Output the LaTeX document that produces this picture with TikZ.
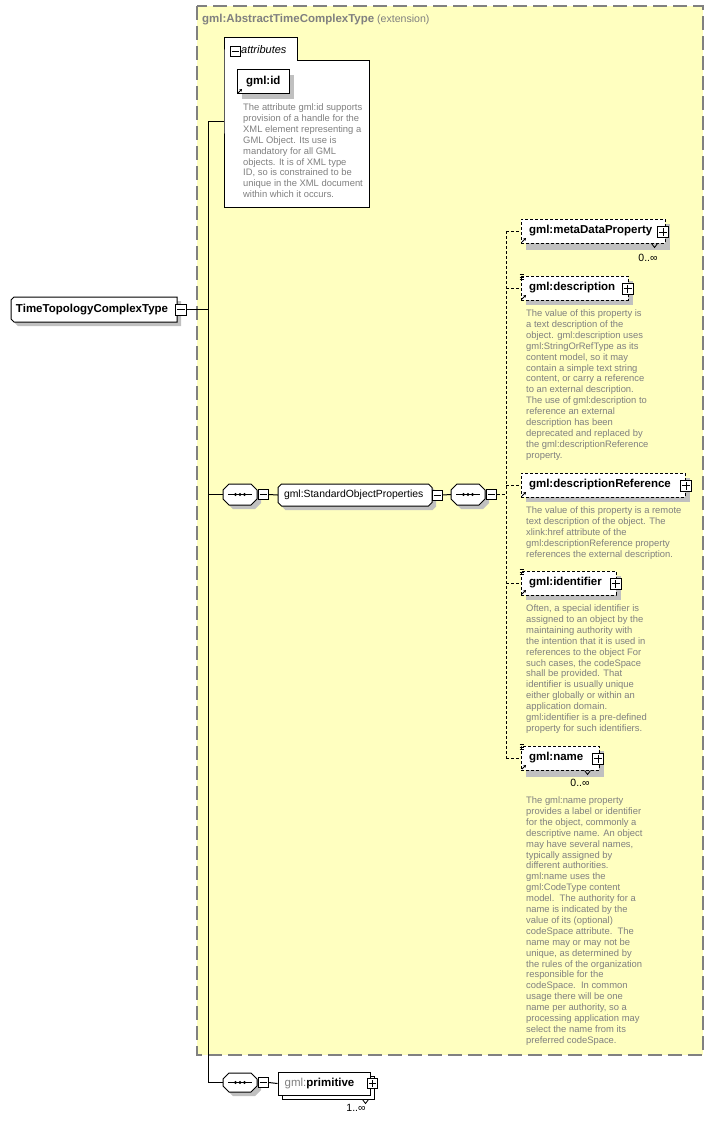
\documentclass[tikz,border=0pt]{standalone}
\usepackage{fontspec}
\setmainfont{Liberation Sans}
\usetikzlibrary{shadows,arrows.meta}
\definecolor{ybg}{RGB}{255,255,192}
\definecolor{framegray}{RGB}{128,128,128}
\definecolor{titlegray}{RGB}{128,128,128}
\definecolor{docgray}{RGB}{128,128,128}
\definecolor{shadowc}{RGB}{192,192,192}
\newcommand\lblfont{\fontsize{11.5}{13}\selectfont\bfseries}
\newcommand\regfont{\fontsize{10.6}{13}\selectfont}
\newcommand\docfont{\fontsize{9.4}{10.9}\selectfont}
\newcommand\cardfont{\fontsize{10.5}{12}\selectfont}
\newcommand\boxtxt[2]{\makebox[#1][l]{#2}}
\newcommand\minusln[1]{\draw[line width=1pt] ([xshift=2pt]#1.west) -- ([xshift=-2pt]#1.east);}
\newcommand\plusln[1]{\draw[line width=1pt] ([xshift=2pt]#1.west) -- ([xshift=-2pt]#1.east);
  \draw[line width=1pt] ([yshift=2pt]#1.south) -- ([yshift=-2pt]#1.north);}
\newcommand\seqdots[1]{\draw[line width=1pt] ([xshift=-12pt]#1.center) -- ([xshift=12pt]#1.center);
  \foreach \dx in {-4.5,0,4.5} \fill ([xshift=\dx pt]#1.center) circle (1.7pt);}
\newcommand\refarrow[1]{\draw[line width=0.8pt,-{Stealth[length=2.6pt,width=3pt]}] ([xshift=1.5pt,yshift=1.5pt]#1.south west) -- ++(4,-4);}
\newcommand\docicon[1]{\foreach \k in {1,-1.5,-4} \draw[line width=0.7pt] ([xshift=-1pt,yshift=\k pt]#1.north west) -- ++(4.5,0);}
% octagon: x1,y1,x2,y2,chamfer,shadow offset
\newcommand\octshape[6]{%
  \fill[shadowc] ({#1+#6+#5},{#2+#6}) -- ({#3+#6-#5},{#2+#6}) -- ({#3+#6},{#2+#6+#5}) -- ({#3+#6},{#4+#6-#5}) -- ({#3+#6-#5},{#4+#6}) -- ({#1+#6+#5},{#4+#6}) -- ({#1+#6},{#4+#6-#5}) -- ({#1+#6},{#2+#6+#5}) -- cycle;
  \draw[line width=1pt, fill=white] ({#1+#5},#2) -- ({#3-#5},#2) -- (#3,{#2+#5}) -- (#3,{#4-#5}) -- ({#3-#5},#4) -- ({#1+#5},#4) -- (#1,{#4-#5}) -- (#1,{#2+#5}) -- cycle;}
\begin{document}
\begin{tikzpicture}[x=1pt,y=-1pt,
  every node/.style={inner sep=0pt},
  conn/.style={line width=1pt, draw=black},
  optconn/.style={conn, dash pattern=on 3pt off 2pt},
  elem/.style={rectangle, draw=black, fill=white, line width=1pt, font=\lblfont,
    inner xsep=8pt, inner ysep=0pt, minimum height=24pt,
    drop shadow={shadow xshift=5pt, shadow yshift=-5pt, fill=shadowc, opacity=1}},
  opt/.style={dash pattern=on 3pt off 2pt},
  pm/.style={rectangle, draw=black, fill=white, line width=1pt, minimum size=11pt},
  doc/.style={anchor=north west, align=left, font=\docfont, text=docgray},
  card/.style={font=\cardfont},
  frame/.style={rectangle, draw=none}
]
\useasboundingbox (0,0) rectangle (713,1121);
\fill[white] (0,0) rectangle (713,1121);

% extension box
\fill[ybg] (197,6) rectangle (703,1055);
\draw[framegray, line width=1.2pt, dash pattern=on 14pt off 6pt] (197,6) rectangle (703,1055);
\node[anchor=west, text=titlegray] (title) at (202,20) {{\lblfont gml:AbstractTimeComplexType} {\regfont (extension)}};

% attributes
\draw[line width=1pt, fill=white] (224,61) -- (224,38) -- (297,38) -- (297,61) -- (369,61) -- (369,207) -- (224,207) -- cycle;
\node[frame, minimum width=145pt, minimum height=146pt] (attr) at (296.5,134) {};
\node[pm, minimum size=10pt] (attrm) at (235,51.5) {};
\minusln{attrm}
\node[anchor=west, font=\fontsize{11}{13}\selectfont\itshape] (attrt) at (241,50) {attributes};

\node[elem, inner xsep=9pt] (gid) at (263,82) {\boxtxt{34pt}{gml:id}};
\refarrow{gid}
\node[doc] (gidd) at (243,103.5) {The attribute gml:id supports\\provision of a handle for the\\XML element representing a\\GML Object. Its use is\\mandatory for all GML\\objects. It is of XML type\\ID, so is constrained to be\\unique in the XML document\\within which it occurs.};

% root
\fill[shadowc] (18,301) -- (181,301) -- (181,326) -- (18,326) -- (15,323) -- (15,304) -- cycle;
\draw[line width=1pt, fill=white] (14,297) -- (177,297) -- (177,322) -- (14,322) -- (11,319) -- (11,300) -- cycle;
\node[frame, minimum width=166pt, minimum height=25pt] (root) at (94,309.5) {};
\node[anchor=west, font=\lblfont] (roott) at ([xshift=5pt]root.west) {TimeTopologyComplexType};
\node[pm] (rootm) at ([xshift=4pt]root.east) {};
\minusln{rootm}

% trunk
\coordinate (ttop) at (208,122);
\coordinate (tbot) at (208,1082.5);
\draw[conn] (rootm.east) -- (rootm.east -| ttop);
\draw[conn] (ttop) -- (tbot);
\draw[conn] (ttop) -- (ttop -| attr.west);

% sequence 1 and group
\octshape{223}{484}{257}{505}{6}{4}
\node[frame, minimum width=34pt, minimum height=21pt] (seq1) at (240,494.5) {};
\seqdots{seq1}
\node[pm, minimum size=10pt] (s1m) at ([xshift=6pt]seq1.east) {};
\minusln{s1m}
\draw[conn] (seq1.west -| ttop) -- (seq1.west);

\octshape{278}{484}{432}{506}{3.5}{4}
\node[frame, minimum width=154pt, minimum height=22pt] (sop) at (355,495) {};
\node[anchor=west, font=\fontsize{10.4}{12}\selectfont] (sopt) at ([xshift=6pt]sop.west) {gml:StandardObjectProperties};
\node[pm, minimum size=10pt] (sopm) at ([xshift=5pt]sop.east) {};
\minusln{sopm}
\draw[conn] (s1m.east) -- (sop.west);

\octshape{451}{484}{485}{505}{6}{4}
\node[frame, minimum width=34pt, minimum height=21pt] (seq2) at (468,494.5) {};
\seqdots{seq2}
\node[pm, minimum size=10pt] (s2m) at ([xshift=6pt]seq2.east) {};
\minusln{s2m}
\draw[conn] (sopm.east) -- (seq2.west);

% children
\coordinate (vx) at (506,0);
\node[elem, opt, drop shadow={shadow xshift=5pt, shadow yshift=-7pt, fill=shadowc, opacity=1}] (meta) at (593,231) {\boxtxt{128pt}{gml:metaDataProperty}};
\node[pm] (metap) at ([xshift=-2.5pt,yshift=-1pt]meta.east) {};
\plusln{metap}
\refarrow{meta}
\draw[line width=0.8pt] ([xshift=-14pt]meta.south east) -- ++(3,4) -- ++(3,-4);
\node[card] (metac) at (648,258) {0..∞};

\node[elem, opt] (desc) at (574.5,288) {\boxtxt{91pt}{gml:description}};
\node[pm] (descp) at ([xshift=-1pt,yshift=-0.5pt]desc.east) {};
\plusln{descp}
\refarrow{desc}
\docicon{desc}
\node[doc] (descd) at (526,309.5) {The value of this property is\\a text description of the\\object. gml:description uses\\gml:StringOrRefType as its\\content model, so it may\\contain a simple text string\\content, or carry a reference\\to an external description.\\The use of gml:description to\\reference an external\\description has been\\deprecated and replaced by\\the gml:descriptionReference\\property.};

\node[elem, opt] (dref) at (603,485) {\boxtxt{148pt}{gml:descriptionReference}};
\node[pm] (drefp) at ([xshift=0.5pt,yshift=-0.5pt]dref.east) {};
\plusln{drefp}
\refarrow{dref}
\node[doc] (drefd) at (526,506.5) {The value of this property is a remote\\text description of the object. The\\xlink:href attribute of the\\gml:descriptionReference property\\references the external description.};

\node[elem, opt] (ident) at (568.5,583) {\boxtxt{79pt}{gml:identifier}};
\node[pm] (identp) at ([xshift=-1pt,yshift=-0.5pt]ident.east) {};
\plusln{identp}
\refarrow{ident}
\docicon{ident}
\node[doc] (identd) at (526,604.5) {Often, a special identifier is\\assigned to an object by the\\maintaining authority with\\the intention that it is used in\\references to the object For\\such cases, the codeSpace\\shall be provided. That\\identifier is usually unique\\either globally or within an\\application domain.\\gml:identifier is a pre-defined\\property for such identifiers.};

\node[elem, opt, drop shadow={shadow xshift=5pt, shadow yshift=-7pt, fill=shadowc, opacity=1}] (name) at (560,758) {\boxtxt{62pt}{gml:name}};
\node[pm] (namep) at ([xshift=-1.5pt,yshift=-0.5pt]name.east) {};
\plusln{namep}
\refarrow{name}
\docicon{name}
\draw[line width=0.8pt] ([xshift=-15pt]name.south east) -- ++(3,4) -- ++(3,-4);
\node[card] (namec) at (580,783) {0..∞};
\node[doc] (named) at (526,796.5) {The gml:name property\\provides a label or identifier\\for the object, commonly a\\descriptive name. An object\\may have several names,\\typically assigned by\\different authorities.\\gml:name uses the\\gml:CodeType content\\model.\ \ The authority for a\\name is indicated by the\\value of its (optional)\\codeSpace attribute.\ \ The\\name may or may not be\\unique, as determined by\\the rules of the organization\\responsible for the\\codeSpace.\ \ In common\\usage there will be one\\name per authority, so a\\processing application may\\select the name from its\\preferred codeSpace.};

\draw[optconn] (s2m.east) -- (s2m.east -| vx);
\draw[optconn] (meta.west -| vx) -- (name.west -| vx);
\draw[optconn] (meta.west -| vx) -- (meta.west);
\draw[optconn] (desc.west -| vx) -- (desc.west);
\draw[optconn] (dref.west -| vx) -- (dref.west);
\draw[optconn] (ident.west -| vx) -- (ident.west);
\draw[optconn] (name.west -| vx) -- (name.west);

% bottom sequence
\octshape{223}{1073}{257}{1092}{6}{4}
\node[frame, minimum width=34pt, minimum height=19pt] (seq3) at (240,1082.5) {};
\seqdots{seq3}
\node[pm, minimum size=10pt] (s3m) at ([xshift=6pt]seq3.east) {};
\minusln{s3m}
\draw[conn] (tbot) -- (seq3.west);

\node[rectangle, draw=black, fill=white, line width=1pt, minimum width=92pt, minimum height=23pt,
  copy shadow={shadow xshift=4pt, shadow yshift=-4pt}] (prim) at (324,1083.5) {};
\node[anchor=west] (primt) at ([xshift=7pt]prim.west) {{\color{titlegray}\fontsize{11.5}{13}\selectfont gml:}{\lblfont primitive}};
\node[pm, minimum size=10pt] (primp) at ([xshift=2pt]prim.east) {};
\plusln{primp}
\draw[line width=0.8pt] ([xshift=-8pt,yshift=-4pt]prim.south east) -- ++(3,4) -- ++(3,-4);
\node[card] (primc) at (356,1108) {1..∞};
\draw[conn] (s3m.east) -- (prim.west);
\end{tikzpicture}
\end{document}
